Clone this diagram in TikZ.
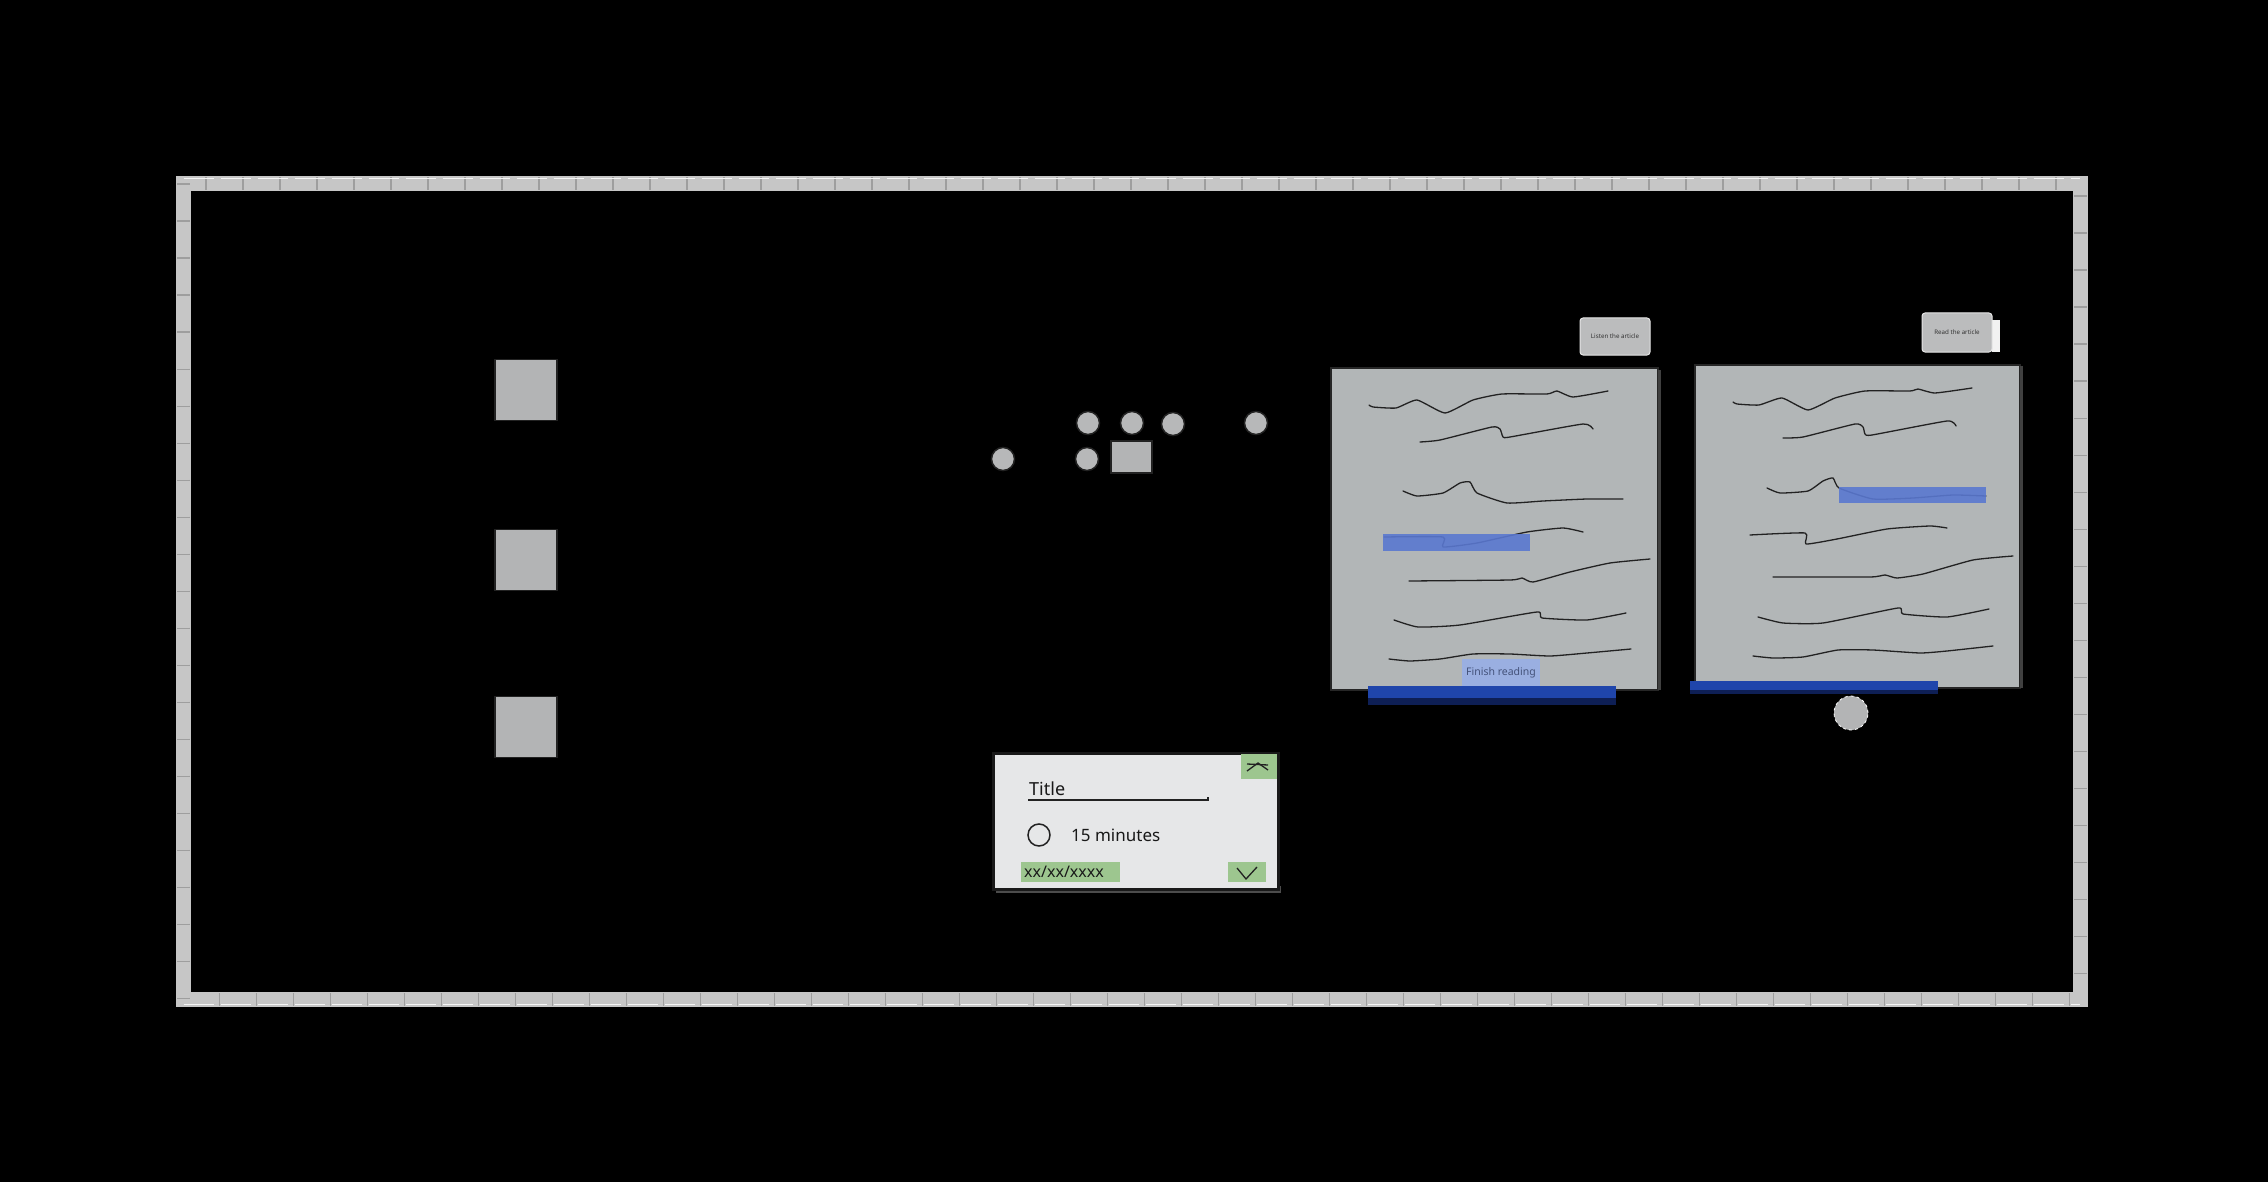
\documentclass[tikz,border=0pt]{standalone}
\usepackage{fontspec}
\setmainfont{Noto Sans}
\definecolor{bandgray}{HTML}{C6C6C6}
\definecolor{banddark}{HTML}{9E9E9E}
\definecolor{sqgray}{HTML}{B3B4B5}
\definecolor{panelgray}{HTML}{B2B6B7}
\definecolor{dlgfill}{HTML}{E6E7E8}
\definecolor{okgreen}{HTML}{9DC68F}
\definecolor{hlblue}{HTML}{5A78D0}
\definecolor{barblue}{HTML}{1F45AB}
\definecolor{barshadow}{HTML}{0E1F55}
\definecolor{finblue}{HTML}{9AAFE1}
\definecolor{fintext}{HTML}{44527A}
\definecolor{btngray}{HTML}{BBBCBD}
\definecolor{inkline}{HTML}{222222}
\begin{document}
\begin{tikzpicture}[x=1pt,y=-1pt,
  graysq/.style={draw=inkline,line width=1.5pt,fill=sqgray,minimum width=62pt,minimum height=61pt,inner sep=0pt},
  dot/.style={circle,draw=inkline,line width=1.5pt,fill=sqgray!95!white,minimum size=23pt,inner sep=0pt},
  panel/.style={draw=black!85,line width=2pt,fill=panelgray,inner sep=0pt},
  greenbox/.style={fill=okgreen,inner sep=0pt},
  btn/.style={draw=white!80!gray,line width=1pt,fill=btngray,rounded corners=3pt,inner sep=0pt,font=\fontsize{6.2}{7}\selectfont,text=black!80},
  squig/.style={draw=inkline,line width=1.3pt,line join=round,line cap=round},
  hl/.style={fill=hlblue,fill opacity=0.9,inner sep=0pt}
]
\fill[black] (0,0) rectangle (2268,1182);
\useasboundingbox (0,0) rectangle (2268,1182);

% frame
\draw[bandgray,line width=15pt] (183.5,183.5) rectangle (2080,999.5);
\draw[banddark,line width=13pt,dash pattern=on 1.5pt off 35.5pt] (183.5,183.5) rectangle (2080,999.5);
\draw[white!92!gray,line width=1pt,dash pattern=on 30pt off 7pt] (183.5,179) -- (2080,179);
\draw[white!92!gray,line width=1pt,dash pattern=on 30pt off 7pt] (183.5,1004) -- (2080,1004);

% left squares
\node[graysq] (sqa) at (526,390) {};
\node[graysq] (sqb) at (526,560) {};
\node[graysq] (sqc) at (526,727) {};

% dots and small square
\node[dot] (d1) at (1088,423) {};
\node[dot] (d2) at (1132,423) {};
\node[dot] (d3) at (1173,424) {};
\node[dot] (d4) at (1256,423) {};
\node[dot] (d5) at (1003,459) {};
\node[dot] (d6) at (1087,459) {};
\node[draw=inkline,line width=1.5pt,fill=sqgray,minimum width=41pt,minimum height=32pt,inner sep=0pt] (msq) at (1131.5,457) {};

% dialog
\fill[black!70] (996,886) rectangle (1281,893);
\node[draw=black!90,line width=3pt,fill=dlgfill,minimum width=285pt,minimum height=136pt,inner sep=0pt] (dlg) at (1135.5,821) {};
\node[greenbox,minimum width=36pt,minimum height=25pt] (close) at (1259,766.5) {};
\draw[inkline,line width=1.3pt] (1247,771) -- (1258,763) -- (1268,770);
\draw[inkline,line width=1.3pt] (1247,764) -- (1268,765);
\node[anchor=base west,inner sep=0pt,font=\fontsize{18}{20}\selectfont,text=black!90] (title) at (1029,795) {Title};
\draw[inkline,line width=1.5pt] (1028,800) -- (1208,800) -- (1208,797);
\node[circle,draw=inkline,line width=1.5pt,minimum size=22pt,inner sep=0pt] (radio) at (1039,835) {};
\node[anchor=west,inner sep=0pt,font=\fontsize{17}{20}\selectfont,text=black!90] (mins) at (1071,835) {15 minutes};
\node[greenbox,minimum width=99pt,minimum height=20pt] (date) at (1070.5,872) {};
\node[anchor=west,inner sep=0pt,font=\fontsize{16}{18}\selectfont,text=black!90] (datetxt) at (1024,872) {xx/xx/xxxx};
\node[greenbox,minimum width=38pt,minimum height=20pt] (ok) at (1247,872) {};
\draw[inkline,line width=1.3pt] (ok.center) ++(-10,-4) -- ++(9,11) -- ++(11,-12);

% panel 1
\node[btn,minimum width=70pt,minimum height=37pt] (listen) at (1615,336.5) {Listen the article};
\node[panel,minimum width=327pt,minimum height=322pt] (p1) at (1494.5,529) {};
\draw[black!75,line width=3pt] (1659,370) -- (1659,690);
\draw[squig] plot[smooth,tension=0.3] coordinates {(1369,405) (1373,407) (1396,408) (1417,400) (1445,413) (1473,400) (1502,394) (1547,394) (1557,391) (1573,397) (1608,391)};
\draw[squig] plot[smooth,tension=0.3] coordinates {(1420,442) (1440,440) (1492,427) (1500,429) (1503,437) (1510,437) (1583,424) (1593,429)};
\draw[squig] plot[smooth,tension=0.3] coordinates {(1403,491) (1417,496) (1443,493) (1460,483) (1470,482) (1477,493) (1507,503) (1543,501) (1587,499) (1623,499)};
\draw[squig] plot[smooth,tension=0.3] coordinates {(1384,537) (1443,537) (1443,547) (1477,543) (1527,532) (1563,528) (1583,532)};
\draw[squig] plot[smooth,tension=0.3] coordinates {(1409,581) (1510,580) (1522,578) (1533,582) (1570,572) (1610,563) (1650,559)};
\draw[squig] plot[smooth,tension=0.3] coordinates {(1394,620) (1418,627) (1460,625) (1537,612) (1542,618) (1587,620) (1626,613)};
\draw[squig] plot[smooth,tension=0.3] coordinates {(1389,659) (1410,661) (1440,659) (1473,654) (1510,654) (1550,656) (1587,653) (1631,649)};
\node[hl,minimum width=147pt,minimum height=17pt] (hl1) at (1456.5,542.5) {};
\node[fill=finblue,minimum width=78pt,minimum height=29pt,inner sep=0pt,font=\fontsize{10.5}{12}\selectfont,text=fintext] (finish) at (1501,673) {Finish reading};
\fill[barshadow] (1368,697) rectangle (1616,705);
\node[fill=barblue,minimum width=248pt,minimum height=12pt,inner sep=0pt] (bar1) at (1492,692) {};

% panel 2
\fill[white!90!gray] (1992,320) rectangle (2000,352);
\node[btn,minimum width=70pt,minimum height=39pt] (read) at (1957,332.5) {Read the article};
\node[panel,minimum width=325pt,minimum height=323pt] (p2) at (1857.5,526.5) {};
\draw[black!75,line width=3pt] (2021,366) -- (2021,688);
\draw[squig] plot[smooth,tension=0.3] coordinates {(1733,402) (1737,404) (1759,405) (1782,398) (1808,410) (1835,398) (1865,391) (1910,391) (1918,389) (1935,393) (1972,388)};
\draw[squig] plot[smooth,tension=0.3] coordinates {(1783,438) (1803,437) (1855,424) (1863,427) (1865,434) (1872,435) (1947,421) (1956,426)};
\draw[squig] plot[smooth,tension=0.3] coordinates {(1767,488) (1780,493) (1808,491) (1823,481) (1833,478) (1839,488) (1873,499) (1913,498) (1953,495) (1986,496)};
\draw[squig] plot[smooth,tension=0.3] coordinates {(1750,535) (1805,533) (1806,544) (1837,539) (1887,529) (1930,526) (1947,528)};
\draw[squig] plot[smooth,tension=0.3] coordinates {(1773,577) (1870,577) (1885,575) (1897,578) (1923,574) (1973,560) (2013,556)};
\draw[squig] plot[smooth,tension=0.3] coordinates {(1758,617) (1783,623) (1823,623) (1898,608) (1903,614) (1947,617) (1989,609)};
\draw[squig] plot[smooth,tension=0.3] coordinates {(1753,656) (1773,658) (1803,657) (1838,650) (1873,650) (1920,653) (1947,651) (1993,646)};
\node[hl,minimum width=147pt,minimum height=16pt] (hl2) at (1912.5,495) {};
\fill[barshadow] (1690,689) rectangle (1938,694);
\node[fill=barblue,minimum width=248pt,minimum height=9pt,inner sep=0pt] (bar2) at (1814,685.5) {};
\node[circle,fill=sqgray,draw=white,line width=0.8pt,dashed,minimum size=34pt,inner sep=0pt] (knob) at (1851,713) {};
\end{tikzpicture}
\end{document}
